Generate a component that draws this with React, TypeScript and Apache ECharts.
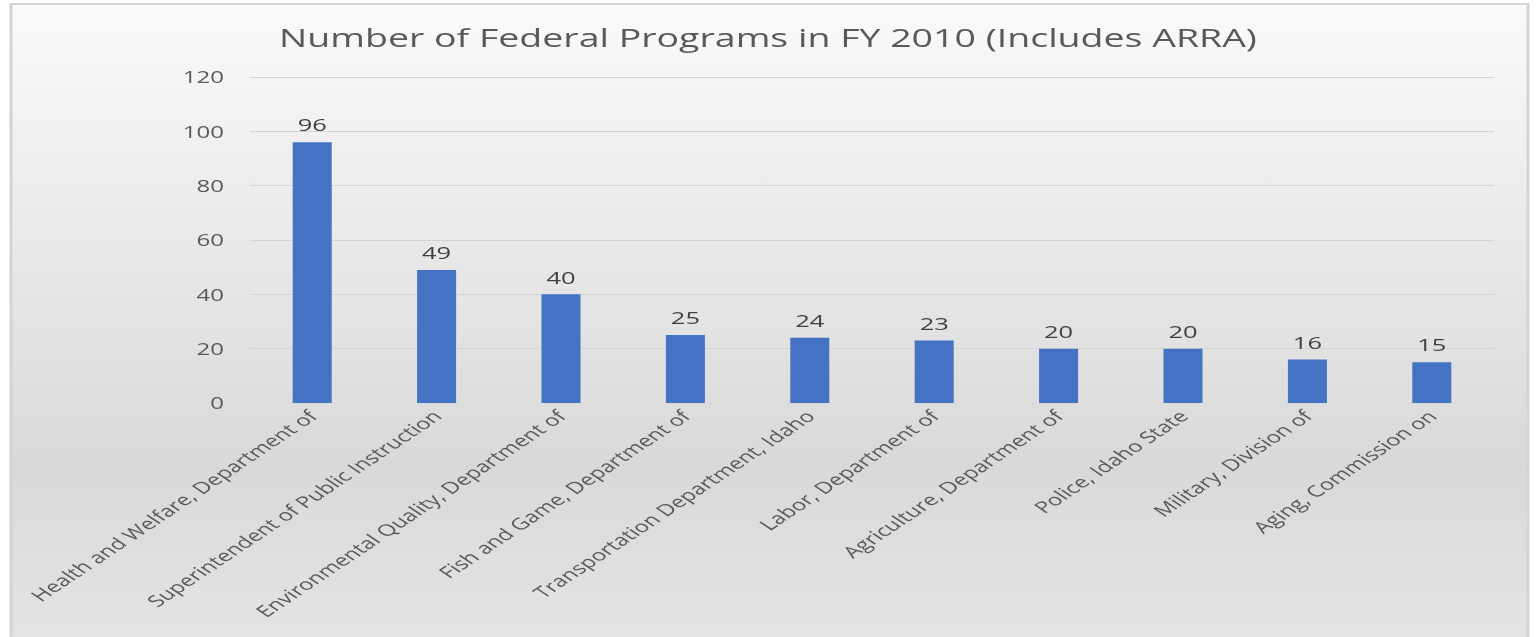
import React, { useEffect, useRef } from "react";
import * as echarts from "echarts";

const categories = [
  "Health and Welfare, Department of",
  "Superintendent of Public Instruction",
  "Environmental Quality, Department of",
  "Fish and Game, Department of",
  "Transportation Department, Idaho",
  "Labor, Department of",
  "Agriculture, Department of",
  "Police, Idaho State",
  "Military, Division of",
  "Aging, Commission on",
];
const values = [96, 49, 40, 25, 24, 23, 20, 20, 16, 15];
const yTicks = [0, 20, 40, 60, 80, 100, 120];

const FONT = "'Open Sans', 'Noto Sans', sans-serif";
const SX = 1.5; // the reference picture is stretched horizontally
const W = 1536 / SX;

export default function App() {
  const ref = useRef<HTMLDivElement>(null);
  useEffect(() => {
    const chart = echarts.init(ref.current!, null, { renderer: "svg" });
    chart.setOption({
      animation: false,
      graphic: [
        {
          type: "rect",
          z: -10,
          silent: true,
          shape: { x: 11 / SX, y: 4, width: 1517 / SX, height: 640 },
          style: {
            fill: new echarts.graphic.LinearGradient(0, 0, 0, 1, [
              { offset: 0, color: "#fafafa" },
              { offset: 0.72, color: "#d9d9d9" },
              { offset: 1, color: "#e4e4e4" },
            ]),
            stroke: "#d4d4d4",
            lineWidth: 2,
          },
        },
      ],
      title: {
        text: "Number of Federal Programs in FY 2010 (Includes ARRA)",
        left: "center",
        top: 20,
        textStyle: { fontFamily: FONT, fontSize: 25, fontWeight: "normal", color: "#595959" },
      },
      grid: { left: 250 / SX, right: 42 / SX, top: 77, bottom: 234, containLabel: false },
      xAxis: {
        type: "category",
        data: categories,
        axisLine: { show: true, lineStyle: { color: "#d9d9d9" } },
        axisTick: { show: false },
        axisLabel: {
          rotate: 45,
          interval: 0,
          fontFamily: FONT,
          fontSize: 16,
          color: "#595959",
          margin: 10,
        },
      },
      yAxis: {
        type: "value",
        min: 0,
        max: 120,
        interval: 20,
        axisLine: { show: false },
        axisTick: { show: false },
        splitLine: { lineStyle: { color: "#d4d4d4", width: 1 } },
        axisLabel: {
          fontFamily: FONT,
          fontSize: 16,
          color: "#595959",
          margin: 26 / SX,
          formatter: (v: number) => (yTicks.includes(v) ? String(v) : ""),
        },
      },
      series: [
        {
          type: "bar",
          data: values,
          barWidth: 39 / SX,
          itemStyle: { color: "#4472C4" },
          label: {
            show: true,
            position: "top",
            distance: 9,
            fontFamily: FONT,
            fontSize: 17,
            color: "#404040",
          },
        },
      ],
    });
    return () => chart.dispose();
  }, []);
  return (
    <div style={{ position: "fixed", left: 0, top: 0, width: 1536, height: 637, overflow: "hidden" }}>
      <div
        ref={ref}
        style={{
          width: W,
          height: 637,
          transform: `scaleX(${SX})`,
          transformOrigin: "0 0",
        }}
      />
    </div>
  );
}
